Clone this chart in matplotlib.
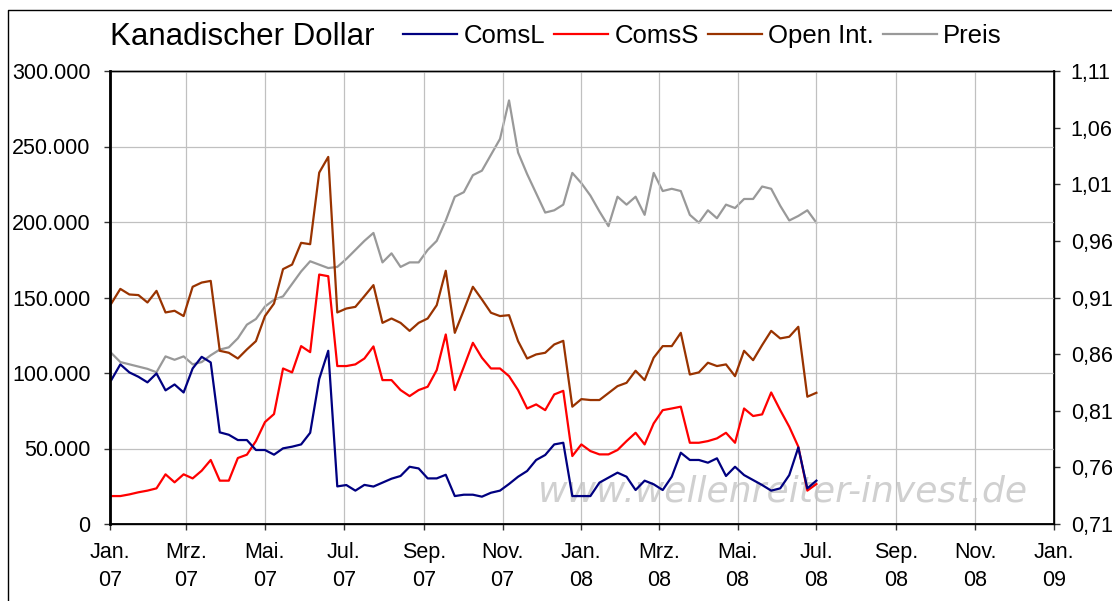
import matplotlib
matplotlib.use('Agg')
import matplotlib.pyplot as plt
from matplotlib.lines import Line2D
import pandas as pd

plt.rcParams['font.family'] = ['Liberation Sans', 'DejaVu Sans']

# weekly COT data, Tuesdays
dates = pd.date_range('2007-01-02', periods=79, freq='7D')

# Commercials long (in thousand contracts)
coms_l = [95.3, 105.7, 100.4, 97.5, 93.8, 99.7, 88.5, 92.4, 87.1, 103.0,
          110.7, 107.0, 60.7, 59.1, 55.6, 55.6, 49.0, 49.0, 45.9, 50.1,
          51.2, 52.7, 60.4, 96.0, 114.7, 24.9, 25.8, 22.1, 25.9, 24.8,
          27.4, 30.0, 31.8, 37.9, 36.8, 30.2, 30.2, 32.6, 18.5, 19.4,
          19.4, 18.1, 20.7, 22.1, 26.5, 31.3, 35.1, 42.4, 45.7, 52.7,
          53.8, 18.5, 18.5, 18.5, 27.4, 30.7, 34.0, 31.3, 22.5, 28.7,
          26.3, 22.5, 31.3, 47.2, 42.4, 42.4, 40.6, 43.5, 31.8, 37.9,
          32.4, 29.1, 25.8, 22.1, 23.6, 32.4, 50.7, 23.6, 28.7]

# Commercials short
coms_s = [18.5, 18.5, 19.6, 21.0, 22.1, 23.6, 32.9, 27.6, 32.9, 30.2,
          35.3, 42.4, 28.7, 28.7, 43.7, 45.9, 54.9, 67.5, 72.8, 103.0,
          100.4, 117.8, 113.8, 165.2, 164.1, 104.6, 104.6, 105.7, 109.6, 117.6,
          95.3, 95.3, 88.7, 84.7, 88.7, 90.9, 101.9, 125.5, 88.7, 104.1,
          120.0, 110.1, 103.0, 103.0, 97.9, 88.7, 76.5, 79.2, 75.4, 85.8,
          88.2, 45.0, 52.7, 48.3, 46.1, 46.1, 49.0, 54.9, 60.4, 52.7,
          66.6, 75.4, 76.5, 77.7, 53.8, 53.8, 54.9, 56.7, 60.4, 53.8,
          76.5, 71.5, 72.6, 87.1, 75.4, 64.4, 51.2, 22.1, 26.5]

# Open interest
open_int = [146.0, 155.7, 152.0, 151.6, 146.7, 154.4, 140.1, 141.2, 137.7, 157.1,
            159.9, 161.0, 114.7, 113.4, 109.6, 115.6, 121.1, 137.7, 146.0, 168.8,
            171.8, 186.2, 185.3, 232.7, 243.1, 140.1, 142.7, 143.8, 150.9, 158.2,
            133.2, 136.1, 133.2, 127.9, 133.2, 136.1, 144.9, 167.7, 126.6, 141.6,
            157.1, 148.7, 139.9, 137.7, 138.3, 121.1, 109.6, 112.3, 113.4, 118.9,
            121.3, 77.7, 82.7, 82.1, 82.1, 86.7, 91.3, 93.5, 101.5, 95.3,
            110.1, 117.8, 117.8, 126.6, 99.0, 100.4, 106.8, 104.6, 105.7, 97.9,
            114.7, 108.5, 118.5, 127.9, 122.9, 124.0, 130.6, 84.3, 86.9]

# CAD price (right axis)
preis = [0.861, 0.853, 0.851, 0.849, 0.847, 0.844, 0.858, 0.855, 0.858, 0.851,
         0.853, 0.859, 0.864, 0.866, 0.874, 0.886, 0.891, 0.902, 0.908, 0.911,
         0.922, 0.933, 0.942, 0.939, 0.936, 0.937, 0.944, 0.952, 0.960, 0.967,
         0.941, 0.949, 0.937, 0.941, 0.941, 0.952, 0.960, 0.978, 0.999, 1.003,
         1.018, 1.022, 1.036, 1.050, 1.084, 1.038, 1.019, 1.002, 0.985, 0.987,
         0.992, 1.020, 1.011, 1.000, 0.986, 0.973, 0.999, 0.992, 0.999, 0.983,
         1.020, 1.004, 1.006, 1.004, 0.983, 0.976, 0.987, 0.980, 0.992, 0.989,
         0.997, 0.997, 1.008, 1.006, 0.991, 0.978, 0.982, 0.987, 0.976]

x_tick_labels = ['Jan.\n07', 'Mrz.\n07', 'Mai.\n07', 'Jul.\n07', 'Sep.\n07', 'Nov.\n07',
                 'Jan.\n08', 'Mrz.\n08', 'Mai.\n08', 'Jul.\n08', 'Sep.\n08', 'Nov.\n08',
                 'Jan.\n09']
left_ticks = [0, 50000, 100000, 150000, 200000, 250000, 300000]
right_ticks = [0.71, 0.76, 0.81, 0.86, 0.91, 0.96, 1.01, 1.06, 1.11]

W, H = 1112, 601
fig = plt.figure(figsize=(W / 100, H / 100), dpi=100)
ax = fig.add_axes([110 / W, 1 - 524 / H, (1054 - 110) / W, (524 - 71) / H])
ax2 = ax.twinx()
ax.set_zorder(ax2.get_zorder() + 1)
ax.patch.set_visible(False)

c_l, c_s, c_oi, c_p = '#000080', '#ff0000', '#993300', '#999999'
lw = 1.6

# watermark
ax2.text(538 / W, 1 - 492 / H, 'www.wellenreiter-invest.de', transform=fig.transFigure,
         fontsize=26, family='DejaVu Sans', style='italic', color='#d0d0d0',
         va='center', ha='left', zorder=0)

ax2.plot(dates, preis, color=c_p, lw=lw)
ax.plot(dates, [v * 1000 for v in open_int], color=c_oi, lw=lw)
ax.plot(dates, [v * 1000 for v in coms_s], color=c_s, lw=lw)
ax.plot(dates, [v * 1000 for v in coms_l], color=c_l, lw=lw)

ax.set_ylim(0, 300000)
ax2.set_ylim(0.71, 1.11)
ax.set_xlim(pd.Timestamp('2007-01-01'), pd.Timestamp('2009-01-01'))

xt = pd.date_range('2007-01-01', '2009-01-01', freq='2MS')
ax.set_xticks(xt)
ax.set_xticklabels(x_tick_labels, linespacing=1.45)
ax.set_yticks(left_ticks)
ax.set_yticklabels(['0' if v == 0 else f'{v // 1000}.000' for v in left_ticks])
ax2.set_yticks(right_ticks)
ax2.set_yticklabels([f'{v:.2f}'.replace('.', ',') for v in right_ticks])

ax.grid(True, color='#c0c0c0', lw=0.9)
ax.tick_params(axis='x', direction='out', length=4, width=1, labelsize=15.5, pad=9, color='#333333')
ax.tick_params(axis='y', direction='out', length=4, width=1, labelsize=15.5, pad=10, color='#333333')
ax2.tick_params(axis='y', direction='out', length=4, width=1, labelsize=15.5, pad=8, color='#333333')

for a in (ax, ax2):
    for s in a.spines.values():
        s.set_color('black')
        s.set_linewidth(1.0)
ax.spines['left'].set_linewidth(2.0)
ax.spines['bottom'].set_linewidth(1.3)
ax2.spines['right'].set_linewidth(1.3)

# title and legend
fig.text(110 / W, 1 - 37 / H, 'Kanadischer Dollar', fontsize=22.5, va='center', ha='left')
handles = [Line2D([], [], color=c, lw=lw) for c in (c_l, c_s, c_oi, c_p)]
fig.legend(handles, ['ComsL', 'ComsS', 'Open Int.', 'Preis'], loc='center left',
           bbox_to_anchor=(403 / W, 1 - 36 / H), ncol=4, frameon=False, fontsize=18.5,
           handlelength=2.1, handletextpad=0.25, columnspacing=0.35,
           borderpad=0, borderaxespad=0)

# outer frame (top and left only)
fig.add_artist(Line2D([8 / W, 8 / W, 1.0], [0, 1 - 10 / H, 1 - 10 / H],
                      transform=fig.transFigure, color='black', lw=1.0))

fig.savefig('out.png', dpi=100)
